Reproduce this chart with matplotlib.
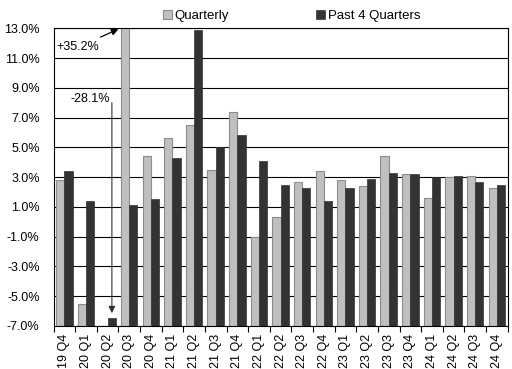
"""Quarterly vs. trailing-four-quarter growth, 2019 Q4 - 2024 Q4."""

import matplotlib

matplotlib.use("Agg")
import matplotlib.pyplot as plt
import numpy as np

plt.rcParams["font.family"] = ["Liberation Sans", "DejaVu Sans"]

quarters = [
    "19 Q4", "20 Q1", "20 Q2", "20 Q3", "20 Q4", "21 Q1", "21 Q2", "21 Q3",
    "21 Q4", "22 Q1", "22 Q2", "22 Q3", "22 Q4", "23 Q1", "23 Q2", "23 Q3",
    "23 Q4", "24 Q1", "24 Q2", "24 Q3", "24 Q4",
]
quarterly = [
    2.8, -5.5, -28.1, 35.2, 4.4, 5.6, 6.5, 3.5, 7.4, -1.0, 0.3,
    2.7, 3.4, 2.8, 2.4, 4.4, 3.2, 1.6, 3.0, 3.1, 2.3,
]
past4 = [
    3.4, 1.4, -6.5, 1.1, 1.5, 4.3, 12.9, 5.0, 5.8, 4.1, 2.5,
    2.3, 1.4, 2.3, 2.9, 3.3, 3.2, 3.0, 3.1, 2.7, 2.5,
]
yticks = [-7, -5, -3, -1, 1, 3, 5, 7, 9, 11, 13]

YMIN, YMAX = -7.0, 13.0
LIGHT = "#bfbfbf"
DARK = "#333333"

fig = plt.figure(figsize=(5.12, 3.69), dpi=100)
ax = fig.add_axes([0.1045, 0.117, 0.887, 0.806])

x = np.arange(len(quarters))
w = 0.38
# Excel-style: bars rise from the bottom of the axis (-7%)
ax.bar(x - w / 2, np.array(quarterly) - YMIN, w, bottom=YMIN, color=LIGHT,
       edgecolor="#8c8c8c", linewidth=0.8, label="Quarterly")
ax.bar(x + w / 2, np.array(past4) - YMIN, w, bottom=YMIN, color=DARK,
       edgecolor=DARK, linewidth=0.5, label="Past 4 Quarters")

ax.set_xlim(-0.5, len(quarters) - 0.5)
ax.set_ylim(YMIN, YMAX)
ax.set_yticks(yticks)
ax.set_yticklabels([f"{t:.1f}%" for t in yticks], fontsize=9)
ax.tick_params(axis="y", length=0, pad=10)
ax.yaxis.grid(True, color="black", linewidth=0.8)
ax.set_axisbelow(True)

ax.set_xticks(x)
ax.set_xticklabels(quarters, rotation=90, fontsize=9)
ax.set_xticks(np.arange(-0.5, len(quarters)), minor=True)
ax.tick_params(axis="x", which="major", length=0, pad=6)
ax.tick_params(axis="x", which="minor", length=4, width=0.8, direction="out")
for s in ax.spines.values():
    s.set_color("black")
    s.set_linewidth(0.8)

# off-scale values
i3 = quarters.index("20 Q3")
ax.annotate(f"+{quarterly[i3]:.1f}%", xy=(i3 - 0.5, YMAX - 0.05),
            xytext=(-0.35, 11.75), fontsize=9, va="center", ha="left",
            arrowprops=dict(arrowstyle="-|>", color="black", lw=0.9,
                            shrinkA=2, shrinkB=0, mutation_scale=10))
i2 = quarters.index("20 Q2")
ax.annotate("", xy=(i2 + 0.2, past4[i2] + 0.35), xytext=(i2 + 0.2, 8.0),
            arrowprops=dict(arrowstyle="-|>", color="#333333", lw=0.8,
                            shrinkA=0, shrinkB=0, mutation_scale=10))
ax.text(i2 + 0.1, 8.25, f"{quarterly[i2]:.1f}%", fontsize=9, ha="right",
        va="center")

fig.legend(loc="upper center", bbox_to_anchor=(0.5695, 1.005), ncol=2,
           frameon=False, fontsize=9.5, handlelength=0.7, handleheight=0.7,
           handletextpad=0.2, columnspacing=6.6)

fig.savefig("out.png", dpi=100)
